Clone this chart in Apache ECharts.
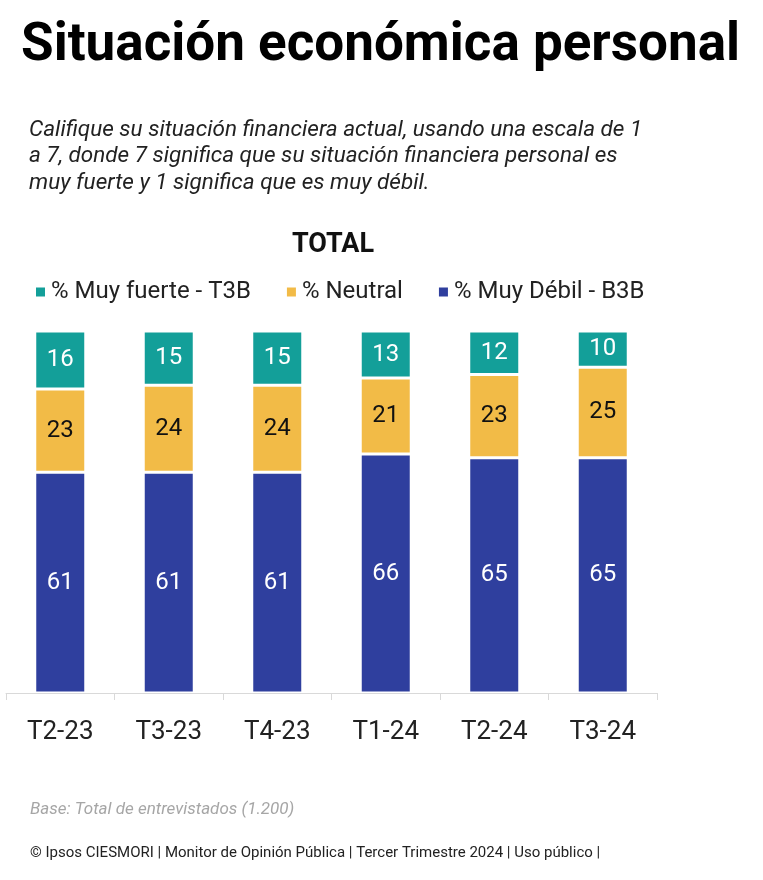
<!DOCTYPE html>
<html>
<head>
<meta charset="utf-8">
<script src="https://cdn.jsdelivr.net/npm/echarts@6/dist/echarts.min.js"></script>
<style>
html,body{margin:0;padding:0;background:#fff;}
#chart{width:763px;height:880px;}
</style>
</head>
<body>
<div id="chart"></div>
<script>
const categories = ['T2-23','T3-23','T4-23','T1-24','T2-24','T3-24'];
const debil = [61,61,61,66,65,65];
const neutral = [23,24,24,21,23,25];
const fuerte = [16,15,15,13,12,10];
const seriesNames = ['% Muy fuerte - T3B','% Neutral','% Muy Débil - B3B'];
const colors = {fuerte:'#139f99', neutral:'#f2bb47', debil:'#2f3f9e'};

const chart = echarts.init(document.getElementById('chart'), null, {renderer:'canvas'});
const font = 'Roboto, "Noto Sans", sans-serif';
function lbl(color){
  return {show:true, position:'inside', color:color, fontSize:24, fontFamily:font};
}
chart.setOption({
  backgroundColor:'#fff',
  animation:false,
  title:[
    {text:'Situación económica personal', left:21, top:20, padding:0,
     textStyle:{fontSize:53, fontWeight:'bold', color:'#000', fontFamily:font}},
    {text:'Califique su situación financiera actual, usando una escala de 1\na 7, donde 7 significa que su situación financiera personal es\nmuy fuerte y 1 significa que es muy débil.',
     left:29, top:117, padding:0,
     textStyle:{fontSize:22.5, fontStyle:'italic', fontWeight:'normal', color:'#222', lineHeight:26.5, fontFamily:font}},
    {text:'TOTAL', left:333, top:232, textAlign:'center', padding:0,
     textStyle:{fontSize:27, fontWeight:'bold', color:'#111', fontFamily:font}},
    {text:'Base: Total de entrevistados (1.200)', left:30, top:801, padding:0,
     textStyle:{fontSize:17, fontStyle:'italic', fontWeight:'normal', color:'#a6a6a6', fontFamily:font}},
    {text:'© Ipsos CIESMORI | Monitor de Opinión Pública | Tercer Trimestre 2024 | Uso público |', left:30, top:846, padding:0,
     textStyle:{fontSize:15, fontWeight:'normal', color:'#222', fontFamily:font}}
  ],
  legend:{
    data:seriesNames, left:34, top:280, padding:0, itemWidth:11, itemHeight:11, itemGap:34,
    icon:'rect',
    textStyle:{fontSize:24, color:'#222', fontFamily:font}
  },
  grid:{left:6, top:331, width:651, height:362, containLabel:false},
  xAxis:{
    type:'category', data:categories,
    axisLine:{show:true, lineStyle:{color:'#d9d9d9', width:1}},
    axisTick:{show:true, length:7, lineStyle:{color:'#d9d9d9'}},
    axisLabel:{fontSize:26, color:'#222', margin:26, fontFamily:font}
  },
  yAxis:{type:'value', min:0, max:100, show:false, splitLine:{show:false}},
  series:[
    {name:seriesNames[2], type:'bar', stack:'s', data:debil, barWidth:51,
     itemStyle:{color:colors.debil, borderColor:'#fff', borderWidth:1.5},
     label:lbl('#fff')},
    {name:seriesNames[1], type:'bar', stack:'s', data:neutral, barWidth:51,
     itemStyle:{color:colors.neutral, borderColor:'#fff', borderWidth:1.5},
     label:lbl('#111')},
    {name:seriesNames[0], type:'bar', stack:'s', data:fuerte, barWidth:51,
     itemStyle:{color:colors.fuerte, borderColor:'#fff', borderWidth:1.5},
     label:lbl('#fff')}
  ]
});
</script>
</body>
</html>
